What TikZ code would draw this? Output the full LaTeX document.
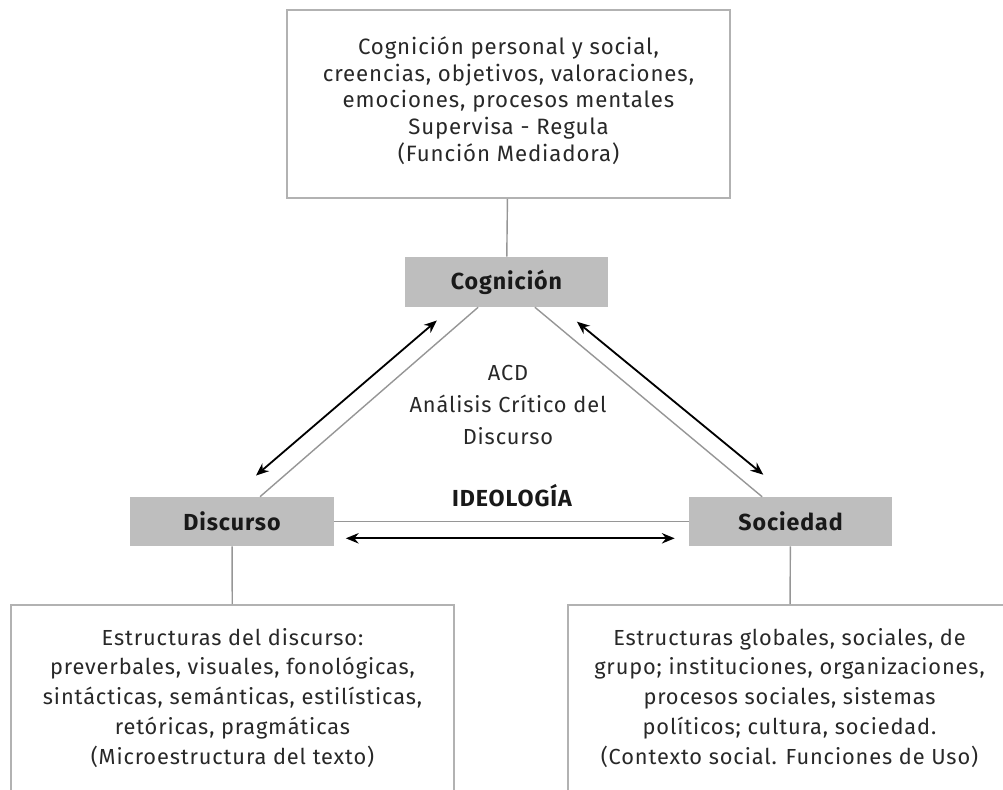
\documentclass[tikz,border=0pt]{standalone}
\usepackage{fontspec}
\setmainfont{Fira Sans}[LetterSpace=4]
\usepackage{tikz}
\usetikzlibrary{positioning,arrows.meta}
\usepackage{xcolor}
\definecolor{boxgray}{RGB}{190,190,190}
\definecolor{linegray}{RGB}{150,150,150}
\definecolor{framegray}{RGB}{178,178,178}
\definecolor{txtgray}{RGB}{40,40,40}

\begin{document}
\begin{tikzpicture}[x=0.025cm,y=-0.025cm,>={Stealth[length=3.2mm,width=2.6mm]},
  infobox/.style={draw=framegray,line width=1.2pt,fill=white,text=txtgray,align=center,minimum width=11.075cm,font=\fontsize{15.5}{21.3}\selectfont},
  keybox/.style={fill=boxgray,text=black!90,minimum width=5.075cm,minimum height=1.25cm,font=\fontsize{16.5}{18}\selectfont\bfseries},
  link/.style={draw=linegray,line width=1pt},
  flow/.style={<->,line width=1.3pt}]
\clip (0,0) rectangle (1003,789);
\node[infobox,minimum height=4.7cm,font=\fontsize{15.8}{19}\selectfont] (mind) at (508.5,104) {Cognición personal y social,\\creencias, objetivos, valoraciones,\\emociones, procesos mentales\\Supervisa - Regula\\(Función Mediadora)\\[-12pt]};
\node[keybox] (cog) at (506.5,282) {Cognición};
\node[keybox,minimum height=1.225cm] (dis) at (232,521.5) {Discurso};
\node[keybox,minimum height=1.225cm] (soc) at (790.5,521.5) {Sociedad};
\node[infobox,minimum height=4.65cm] (micro) at (232.5,698) {Estructuras del discurso:\\preverbales, visuales, fonológicas,\\sintácticas, semánticas, estilísticas,\\retóricas, pragmáticas\\(Microestructura del texto)};
\node[infobox,minimum height=4.65cm] (macro) at (789.5,698) {Estructuras globales, sociales, de\\grupo; instituciones, organizaciones,\\procesos sociales, sistemas\\políticos; cultura, sociedad.\\(Contexto social. Funciones de Uso)};
\node[align=center,text=txtgray,font=\fontsize{15.5}{22.8}\selectfont] (acd) at (508,405) {ACD\\Análisis Crítico del\\Discurso};
\node[font=\fontsize{16.5}{18}\selectfont\bfseries,text=black!90] (ideo) at (512,496) {IDEOLOGÍA};
\draw[link] (mind) -- (cog);
\draw[link] (dis) -- (micro);
\draw[link] (soc) -- (macro);
\draw[link] ([xshift=-0.71cm]cog.south) -- ([xshift=0.7cm]dis.north);
\draw[link] ([xshift=0.71cm]cog.south) -- ([xshift=-0.71cm]soc.north);
\draw[link] (dis.east) -- (soc.west);
\draw[flow] ([xshift=-1.74cm,yshift=-0.33cm]cog.south) -- ([xshift=0.6cm,yshift=0.53cm]dis.north);
\draw[flow] ([xshift=1.76cm,yshift=-0.36cm]cog.south) -- ([xshift=-0.68cm,yshift=0.55cm]soc.north);
\draw[flow] ([xshift=0.3cm,yshift=-0.42cm]dis.east) -- ([xshift=-0.35cm,yshift=-0.42cm]soc.west);
\end{tikzpicture}
\end{document}
